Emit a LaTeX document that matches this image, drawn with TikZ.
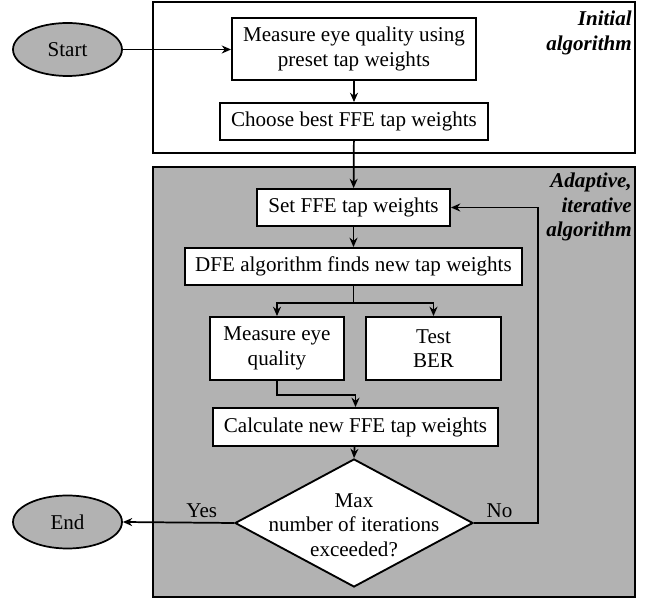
\documentclass[tikz,border=0pt]{standalone}
\usepackage{fontspec}
\setmainfont{Liberation Serif}
\usetikzlibrary{arrows.meta,shapes.geometric,positioning,calc}

\tikzset{
  every node/.style={font=\fontsize{15.8}{18.5}\selectfont},
  stepbox/.style={draw, line width=1.4pt, fill=white, inner sep=0pt, align=center},
  terminal/.style={draw, ellipse, line width=1.3pt, fill=black!30, minimum width=81.75pt, minimum height=39.75pt},
  frame/.style={draw, line width=1.1pt},
  flow/.style={line width=1.3pt, -{Stealth[length=7pt,width=6pt]}},
  tag/.style={font=\fontsize{15.8}{18.5}\selectfont\bfseries\itshape, align=right, anchor=east, inner sep=0pt}
}

\begin{document}
\begin{tikzpicture}[x=0.75pt, y=-0.75pt]
\useasboundingbox (0,0) rectangle (647,598);
% the two frames
\draw[frame] (153,2) rectangle (635,153);
\draw[frame, fill=black!30] (153,167) rectangle (635,597);
\node[tag] (lblinit) at (632,33) {Initial\\algorithm};
\node[tag] (lbladapt) at (632,207) {Adaptive,\\iterative\\algorithm};
% terminals
\node[terminal] (start) at (67.5,49.5) {Start};
\node[terminal] (end) at (67.5,522) {End};
% steps
\node[stepbox, minimum width=183pt, minimum height=46.5pt] (meas1) at (354,49) {Measure eye quality using\\preset tap weights};
\node[stepbox, minimum width=201pt, minimum height=27.75pt] (choose) at (354,121.5) {Choose best FFE tap weights};
\node[stepbox, minimum width=144.75pt, minimum height=27.75pt] (setffe) at (353.5,207.5) {Set FFE tap weights};
\node[stepbox, minimum width=252.75pt, minimum height=27.75pt] (dfe) at (353.5,266.5) {DFE algorithm finds new tap weights};
\node[stepbox, minimum width=100.5pt, minimum height=47.25pt] (meas2) at (277,348.5) {Measure eye\\quality};
\node[stepbox, minimum width=101.25pt, minimum height=47.25pt] (ber) at (433.5,348.5) {Test\\BER};
\node[stepbox, minimum width=213.75pt, minimum height=28.5pt] (calc) at (355.5,427) {Calculate new FFE tap weights};
\node[draw, diamond, line width=1.4pt, fill=white, inner sep=0pt, minimum width=178.5pt, minimum height=96pt] (dec) at (354,523) {};
\node[align=center, inner sep=0pt] (dectxt) at (354,525) {Max\\number of iterations\\exceeded?};
% connectors
\draw[flow] (start.east) -- (start.east -| meas1.west);
\draw[flow] (meas1) -- (choose);
\draw[flow] (choose) -- (setffe);
\draw[flow] (setffe) -- (dfe);
\draw[flow] (dfe.south) -- ++(0,17) -| (meas2.north);
\draw[flow] (dfe.south) -- ++(0,17) -| (ber.north);
\draw[flow] (meas2.south) -- ++(0,14) -| (calc.north);
\draw[flow] (calc) -- (dec.north);
\draw[flow] (dec.west) -- node[above, pos=0.29] {Yes} (end.east);
\draw[flow] (dec.east) -- node[above, pos=0.4] {No} ++(64,0) |- (setffe.east);
\end{tikzpicture}
\end{document}
